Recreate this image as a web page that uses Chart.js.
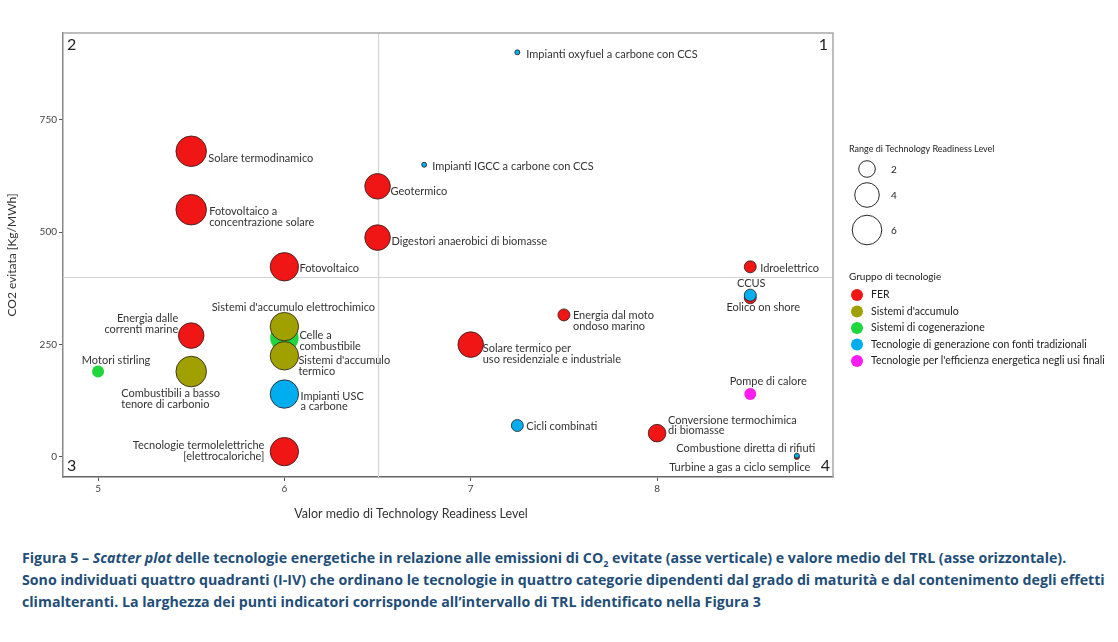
<!DOCTYPE html>
<html>
<head>
<meta charset="utf-8">
<script src="https://cdn.jsdelivr.net/npm/chart.js@4.4.0/dist/chart.umd.min.js"></script>
<style>
  html, body { margin: 0; padding: 0; background: #fff; }
  #wrap { position: absolute; left: 0; top: 0; width: 1118px; height: 540px; }
  #cap {
    position: absolute; left: 22px; top: 547px;
    font-family: "Open Sans", Lato, sans-serif; font-weight: bold;
    font-size: 14.2px; line-height: 22px; color: #1f4e79; white-space: nowrap;
  }
  #cap sub { font-size: 9px; line-height: 0; }
</style>
</head>
<body>
<div id="wrap"><canvas id="c" width="1118" height="540"></canvas></div>
<div id="cap">
  Figura 5 – <i>Scatter plot</i> delle tecnologie energetiche in relazione alle emissioni di CO<sub>2</sub> evitate (asse verticale) e valore medio del TRL (asse orizzontale).<br>
  Sono individuati quattro quadranti (I-IV) che ordinano le tecnologie in quattro categorie dipendenti dal grado di maturità e dal contenimento degli effetti<br>
  climalteranti. La larghezza dei punti indicatori corrisponde all’intervallo di TRL identificato nella Figura 3
</div>
<script>
// gruppi di tecnologie
const GROUPS = ['FER', "Sistemi d'accumulo", 'Sistemi di cogenerazione',
  'Tecnologie di generazione con fonti tradizionali', "Tecnologie per l'efficienza energetica negli usi finali"];

// dati (ordine = ordine di disegno)
const TECH = [
  'Solare termodinamico', 'Fotovoltaico a\nconcentrazione solare', 'Geotermico',
  'Digestori anaerobici di biomasse', 'Fotovoltaico', 'Impianti oxyfuel a carbone con CCS',
  'Impianti IGCC a carbone con CCS', 'Idroelettrico', 'Eolico on shore', 'CCUS',
  'Energia dal moto\nondoso marino', 'Solare termico per\nuso residenziale e industriale',
  'Pompe di calore', 'Cicli combinati', 'Conversione termochimica\ndi biomasse',
  'Combustione diretta di rifiuti', 'Turbine a gas a ciclo semplice',
  'Energia dalle\ncorrenti marine', 'Motori stirling', 'Combustibili a basso\ntenore di carbonio',
  'Celle a\ncombustibile', "Sistemi d'accumulo elettrochimico", "Sistemi d'accumulo\ntermico",
  'Impianti USC\na carbone', 'Tecnologie termolelettriche\n[elettrocaloriche]',
];
const TRL       = [5.5, 5.5, 6.5, 6.5, 6, 7.25, 6.75, 8.5, 8.5, 8.5, 7.5, 7, 8.5, 7.25, 8, 8.75, 8.75, 5.5, 5, 5.5, 6, 6, 6, 6, 6];
const CO2       = [680, 550, 602, 488, 423, 900, 650, 423, 354, 360, 316, 250, 140, 70, 53, 0, 3, 270, 190, 190, 265, 290, 225, 140, 12];
const TRL_RANGE = [6, 6, 4, 4, 5, 0, 0, 1, 1, 1, 1, 4, 1, 1, 2, 0, 0, 4, 1, 6, 5, 5, 5, 5, 5];
const GROUP     = [0, 0, 0, 0, 0, 3, 3, 0, 0, 3, 0, 0, 4, 3, 0, 0, 3, 0, 2, 1, 2, 1, 1, 3, 0];

const X_TICKS = [5, 6, 7, 8];
const Y_TICKS = [0, 250, 500, 750];
const SIZE_LEGEND = [2, 4, 6];
const QUAD_X = 6.5, QUAD_Y = 400;

// stile
const COLORS = ['#f01616', '#a0a000', '#1fd63c', '#00aef0', '#ff1cf0'];
const HAS_BORDER = [true, true, false, true, false];
const RADIUS_PX = [2.5, 6, 8.8, 11, 12.8, 14.2, 15.3];
const FONT = 'Lato, "Open Sans", sans-serif';
const H = 540;

// posizione etichette rispetto al punto: [dx, dy, align]
const LABEL_POS = [
  [17, 7, 'left'], [18, 2, 'left'], [13, 5, 'left'], [14, 4, 'left'], [15, 2, 'left'],
  [9, 2, 'left'], [8, 2, 'left'], [10, 2, 'left'], [13, 10, 'center'], [1, -12, 'center'],
  [9, 1, 'left'], [12, 4, 'left'], [18, -13, 'center'], [9, 1, 'left'], [11, -13, 'left'],
  [-51, -9, 'center'], [-57, 12, 'center'], [-13, -17, 'right'], [18, -11, 'center'],
  [-70, 22, 'left'], [15, -2, 'left'], [9, -19, 'center'], [14, 5, 'left'], [16, 2, 'left'],
  [-20, -6, 'right'],
];

const decor = {
  id: 'decor',
  beforeDatasetsDraw(chart) {
    const { ctx, chartArea: a, scales: { x, y } } = chart;
    ctx.save();
    ctx.strokeStyle = '#d4d4d4'; ctx.lineWidth = 1.2;
    const qx = Math.round(x.getPixelForValue(QUAD_X)) + 0.5;
    const qy = Math.round(y.getPixelForValue(QUAD_Y)) + 0.5;
    ctx.beginPath();
    ctx.moveTo(qx, a.top); ctx.lineTo(qx, a.bottom);
    ctx.moveTo(a.left, qy); ctx.lineTo(a.right, qy);
    ctx.stroke();
    // bordo sopra e a destra
    ctx.strokeStyle = '#a8a8a8'; ctx.lineWidth = 1.5;
    ctx.beginPath();
    ctx.moveTo(a.left, a.top); ctx.lineTo(a.right, a.top); ctx.lineTo(a.right, a.bottom);
    ctx.stroke();
    ctx.restore();
  },
  afterDatasetsDraw(chart) {
    const { ctx, chartArea: a, scales: { x, y } } = chart;
    ctx.save();
    // etichette
    ctx.fillStyle = '#333';
    ctx.font = '11px ' + FONT;
    ctx.textBaseline = 'middle';
    TECH.forEach((t, i) => {
      const [dx, dy, al] = LABEL_POS[i];
      const px = x.getPixelForValue(TRL[i]) + dx;
      const py = y.getPixelForValue(CO2[i]) + dy;
      ctx.textAlign = al;
      t.split('\n').forEach((line, k) => ctx.fillText(line, px, py + k * 10.5));
    });
    // numeri dei quadranti
    ctx.fillStyle = '#222';
    ctx.font = '16px ' + FONT;
    ctx.textAlign = 'left';
    ctx.fillText('2', a.left + 4, a.top + 12);
    ctx.fillText('3', a.left + 4, a.bottom - 11);
    ctx.textAlign = 'right';
    ctx.fillText('1', a.right - 5, a.top + 12);
    ctx.fillText('4', a.right - 3, a.bottom - 11);
    // titoli assi
    ctx.fillStyle = '#333';
    ctx.font = '12.5px ' + FONT;
    ctx.textAlign = 'center';
    ctx.fillText('Valor medio di Technology Readiness Level', 411, 514);
    ctx.save();
    ctx.translate(12, (a.top + a.bottom) / 2);
    ctx.rotate(-Math.PI / 2);
    ctx.font = '12px ' + FONT;
    ctx.fillText('CO2 evitata [Kg/MWh]', 0, 0);
    ctx.restore();
    // legenda dimensioni
    ctx.textAlign = 'left';
    ctx.fillStyle = '#222';
    ctx.font = '9px ' + FONT;
    ctx.fillText('Range di Technology Readiness Level', 849, 149);
    const cy = [169, 195, 230];
    ctx.strokeStyle = '#111'; ctx.lineWidth = 0.9;
    ctx.font = '10px ' + FONT;
    SIZE_LEGEND.forEach((v, k) => {
      ctx.beginPath();
      ctx.arc(867, cy[k], RADIUS_PX[v] - 0.5, 0, Math.PI * 2);
      ctx.stroke();
      ctx.fillText(String(v), 891, cy[k] + 1);
    });
    // legenda gruppi
    ctx.font = '10px ' + FONT;
    ctx.fillText('Gruppo di tecnologie', 849, 277);
    ctx.font = '10.5px ' + FONT;
    GROUPS.forEach((g, k) => {
      const gy = 295 + k * 16.5;
      ctx.fillStyle = COLORS[k];
      ctx.beginPath(); ctx.arc(857, gy, 6, 0, Math.PI * 2); ctx.fill();
      ctx.fillStyle = '#222';
      ctx.fillText(g, 871, gy);
    });
    ctx.restore();
  },
};

new Chart(document.getElementById('c'), {
  type: 'bubble',
  data: {
    datasets: [{
      data: TECH.map((_, i) => ({ x: TRL[i], y: CO2[i], r: RADIUS_PX[TRL_RANGE[i]] })),
      backgroundColor: GROUP.map((g) => COLORS[g]),
      borderColor: GROUP.map((g) => (HAS_BORDER[g] ? '#2a1a1a' : COLORS[g])),
      borderWidth: GROUP.map((g) => (HAS_BORDER[g] ? 0.8 : 0)),
      hoverRadius: 0,
    }],
  },
  options: {
    responsive: false, animation: false,
    layout: { padding: { left: 0, right: 285, top: 33, bottom: 0 } },
    plugins: { legend: { display: false }, tooltip: { enabled: false } },
    scales: {
      x: {
        type: 'linear', min: 4.812, max: 8.944,
        afterBuildTicks: (s) => { s.ticks = X_TICKS.map((v) => ({ value: v })); },
        afterFit: (s) => { s.height = H - 477; },
        ticks: { color: '#444', font: { family: FONT, size: 10 }, padding: 2 },
        grid: { display: true, drawOnChartArea: false, drawTicks: true, tickLength: 4, color: '#555' },
        border: { display: true, color: '#666', width: 1.5 },
      },
      y: {
        type: 'linear', min: -44.5, max: 943,
        afterBuildTicks: (s) => { s.ticks = Y_TICKS.map((v) => ({ value: v })); },
        afterFit: (s) => { s.width = 63; },
        ticks: { color: '#444', font: { family: FONT, size: 10 }, padding: 2 },
        grid: { display: true, drawOnChartArea: false, drawTicks: true, tickLength: 4, color: '#555' },
        border: { display: true, color: '#888', width: 1.5 },
      },
    },
  },
  plugins: [decor],
});
</script>
</body>
</html>
